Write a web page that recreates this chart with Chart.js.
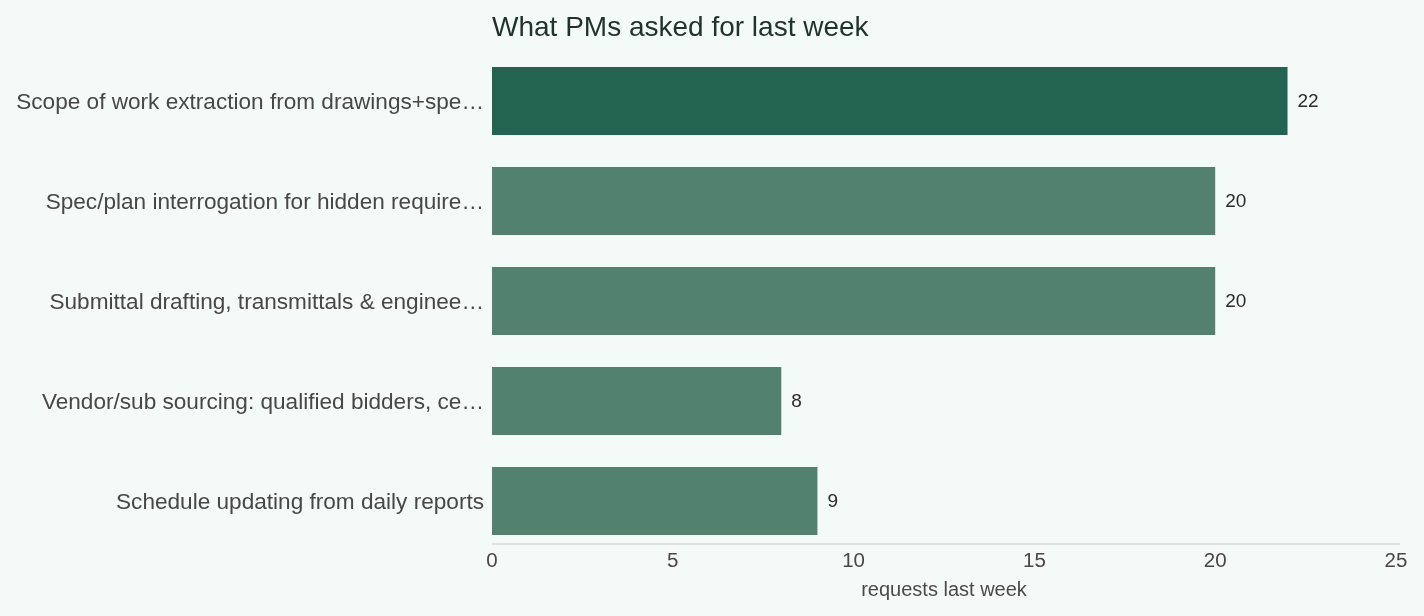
<!DOCTYPE html>
<html>
<head>
<meta charset="utf-8">
<script src="https://cdn.jsdelivr.net/npm/chart.js@4"></script>
<style>
  html, body { margin: 0; padding: 0; background: #f4faf8; }
  #wrap { width: 1424px; height: 616px; }
</style>
</head>
<body>
<div id="wrap"><canvas id="chart" width="1424" height="616"></canvas></div>
<script>
// data
const categories = [
    'Scope of work extraction from drawings+spe\u2026',
    'Spec/plan interrogation for hidden require\u2026',
    'Submittal drafting, transmittals & enginee\u2026',
    'Vendor/sub sourcing: qualified bidders, ce\u2026',
    'Schedule updating from daily reports'
];
const requests = [22, 20, 20, 8, 9];
const xTicks = [0, 5, 10, 15, 20, 25];
const chartTitle = 'What PMs asked for last week';
const xTitle = 'requests last week';

const FONT = '"Liberation Sans", Arial, Helvetica, sans-serif';
const barColors = requests.map((v, i) => i === 0 ? '#236450' : '#52826f');

// title over the plot, left aligned to the chart area
const titlePlugin = {
    id: 'leftTitle',
    afterDraw(chart) {
        const ctx = chart.ctx;
        ctx.save();
        ctx.font = '28px ' + FONT;
        ctx.fillStyle = '#1f322c';
        ctx.textAlign = 'left';
        ctx.textBaseline = 'alphabetic';
        ctx.fillText(chartTitle, chart.chartArea.left, 36);
        ctx.restore();
    }
};

// value next to each bar
const valueLabels = {
    id: 'valueLabels',
    afterDatasetsDraw(chart) {
        const ctx = chart.ctx;
        const meta = chart.getDatasetMeta(0);
        ctx.save();
        ctx.font = '19px ' + FONT;
        ctx.fillStyle = '#2b2b2b';
        ctx.textAlign = 'left';
        ctx.textBaseline = 'alphabetic';
        meta.data.forEach((bar, i) => {
            ctx.fillText(String(requests[i]), bar.x + 10, bar.y + 6);
        });
        ctx.restore();
    }
};

// baseline under the last bar
const axisLine = {
    id: 'axisLine',
    beforeDatasetsDraw(chart) {
        const ctx = chart.ctx;
        const a = chart.chartArea;
        ctx.save();
        ctx.strokeStyle = '#dce3e0';
        ctx.lineWidth = 2;
        ctx.beginPath();
        ctx.moveTo(a.left, a.bottom - 7);
        ctx.lineTo(a.right + 4, a.bottom - 7);
        ctx.stroke();
        ctx.restore();
    }
};

new Chart(document.getElementById('chart'), {
    type: 'bar',
    data: {
        labels: categories,
        datasets: [{
            label: xTitle,
            data: requests,
            backgroundColor: barColors,
            borderWidth: 0,
            categoryPercentage: 1,
            barPercentage: 0.68
        }]
    },
    options: {
        indexAxis: 'y',
        responsive: false,
        animation: false,
        layout: { padding: { top: 51, right: 28, bottom: 0, left: 0 } },
        plugins: {
            legend: { display: false },
            tooltip: { enabled: false }
        },
        scales: {
            x: {
                min: 0,
                max: 25,
                afterBuildTicks(scale) {
                    scale.ticks = xTicks.map(v => ({ value: v }));
                },
                afterFit(scale) { scale.height = 65; },
                grid: { display: false, drawTicks: false },
                border: { display: false },
                ticks: {
                    padding: -2,
                    color: '#474747',
                    font: { family: FONT, size: 20.5 }
                },
                title: {
                    display: true,
                    text: xTitle,
                    color: '#4a4a4a',
                    font: { family: FONT, size: 20 },
                    padding: { top: 4, bottom: 14 }
                }
            },
            y: {
                afterFit(scale) { scale.width = 492; },
                grid: { display: false, drawTicks: false },
                border: { display: false },
                ticks: {
                    padding: 8,
                    labelOffset: 2,
                    color: '#474747',
                    font: { family: FONT, size: 22.6 }
                }
            }
        }
    },
    plugins: [titlePlugin, valueLabels, axisLine]
});
</script>
</body>
</html>
